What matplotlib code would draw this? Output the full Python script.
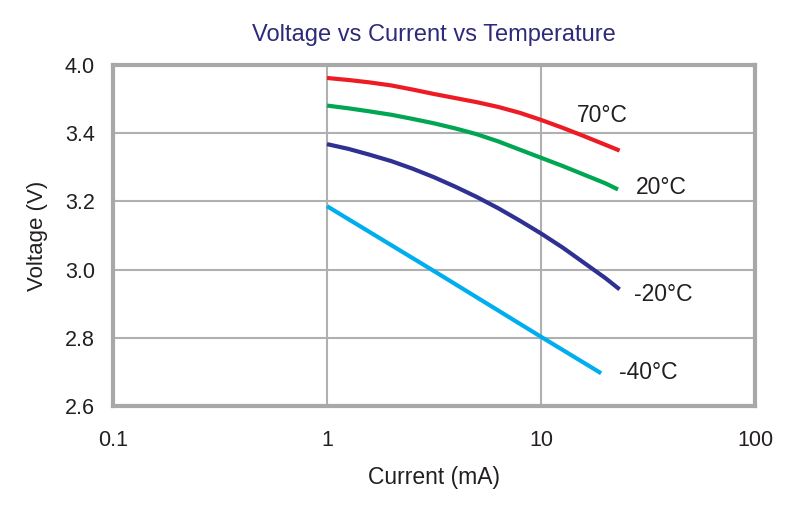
import numpy as np
import matplotlib.pyplot as plt

plt.rcParams['font.family'] = ['Liberation Sans', 'DejaVu Sans']

# values (current in mA, voltage in V)
i_70 = [1, 1.26, 1.58, 2.0, 2.51, 3.16, 3.98, 5.01, 6.31, 7.94, 10, 12.6, 15.8, 20, 23.3]
v_70 = [3.562, 3.556, 3.549, 3.540, 3.528, 3.515, 3.503, 3.491, 3.477, 3.460,
        3.439, 3.416, 3.392, 3.366, 3.349]
i_20 = [1, 1.26, 1.58, 2.0, 2.51, 3.16, 3.98, 5.01, 6.31, 7.94, 10, 12.6, 15.8, 20, 22.9]
v_20 = [3.481, 3.473, 3.464, 3.454, 3.442, 3.429, 3.414, 3.397, 3.376, 3.352,
        3.328, 3.304, 3.279, 3.253, 3.235]
i_m20 = [1, 1.26, 1.58, 2.0, 2.51, 3.16, 3.98, 5.01, 6.31, 7.94, 10, 12.6, 15.8, 20, 23.3]
v_m20 = [3.368, 3.354, 3.337, 3.318, 3.296, 3.271, 3.243, 3.213, 3.180, 3.144,
         3.106, 3.065, 3.021, 2.975, 2.942]
i_m40 = [1, 3.1, 10, 19.1]
v_m40 = [3.186, 2.999, 2.803, 2.696]

labels = ['70°C', '20°C', '-20°C', '-40°C']
label_i = [19.3, 36.5, 37.2, 31.7]
label_v = [3.453, 3.242, 2.928, 2.697]
colors = ['#ED1C24', '#00A651', '#2E3192', '#00AEEF']

x_ticks = [0.1, 1, 10, 100]
x_ticklabels = ['0.1', '1', '10', '100']
y_ticks = [2.6, 2.8, 3.0, 3.2, 3.4, 3.6]
y_ticklabels = ['2.6', '2.8', '3.0', '3.2', '3.4', '4.0']

fig = plt.figure(figsize=(8.11, 5.05), dpi=100)
ax = fig.add_axes([113/811, 1-406/505, 642/811, 341/505])

series = [(i_70, v_70), (i_20, v_20), (i_m20, v_m20), (i_m40, v_m40)]
for (x, y), c in zip(series, colors):
    ax.plot(x, y, color=c, lw=3, solid_capstyle='butt', solid_joinstyle='round')

for t, xi, yi in zip(labels, label_i, label_v):
    ax.text(xi, yi, t, fontsize=16.5, ha='center', va='center', color='#231F20')

ax.set_xscale('log')
ax.set_xlim(0.1, 100)
ax.set_ylim(2.6, 3.6)
ax.set_xticks(x_ticks)
ax.set_xticklabels(x_ticklabels)
ax.minorticks_off()
ax.set_yticks(y_ticks)
ax.set_yticklabels(y_ticklabels)
ax.tick_params(length=0, labelsize=15.5, labelcolor='#231F20')
ax.tick_params(axis='y', pad=13)
ax.tick_params(axis='x', pad=17)
ax.grid(True, color='#B0B0B0', lw=1.5)
ax.set_axisbelow(True)
for s in ax.spines.values():
    s.set_color('#A8A8A8')
    s.set_linewidth(3)

ax.set_xlabel('Current (mA)', fontsize=16.5, labelpad=11, color='#231F20')
ax.set_ylabel('Voltage (V)', fontsize=16, labelpad=12, color='#231F20')
ax.set_title('Voltage vs Current vs Temperature', fontsize=17, color='#2E2A7A', pad=17)

fig.savefig('out.png', dpi=100)
